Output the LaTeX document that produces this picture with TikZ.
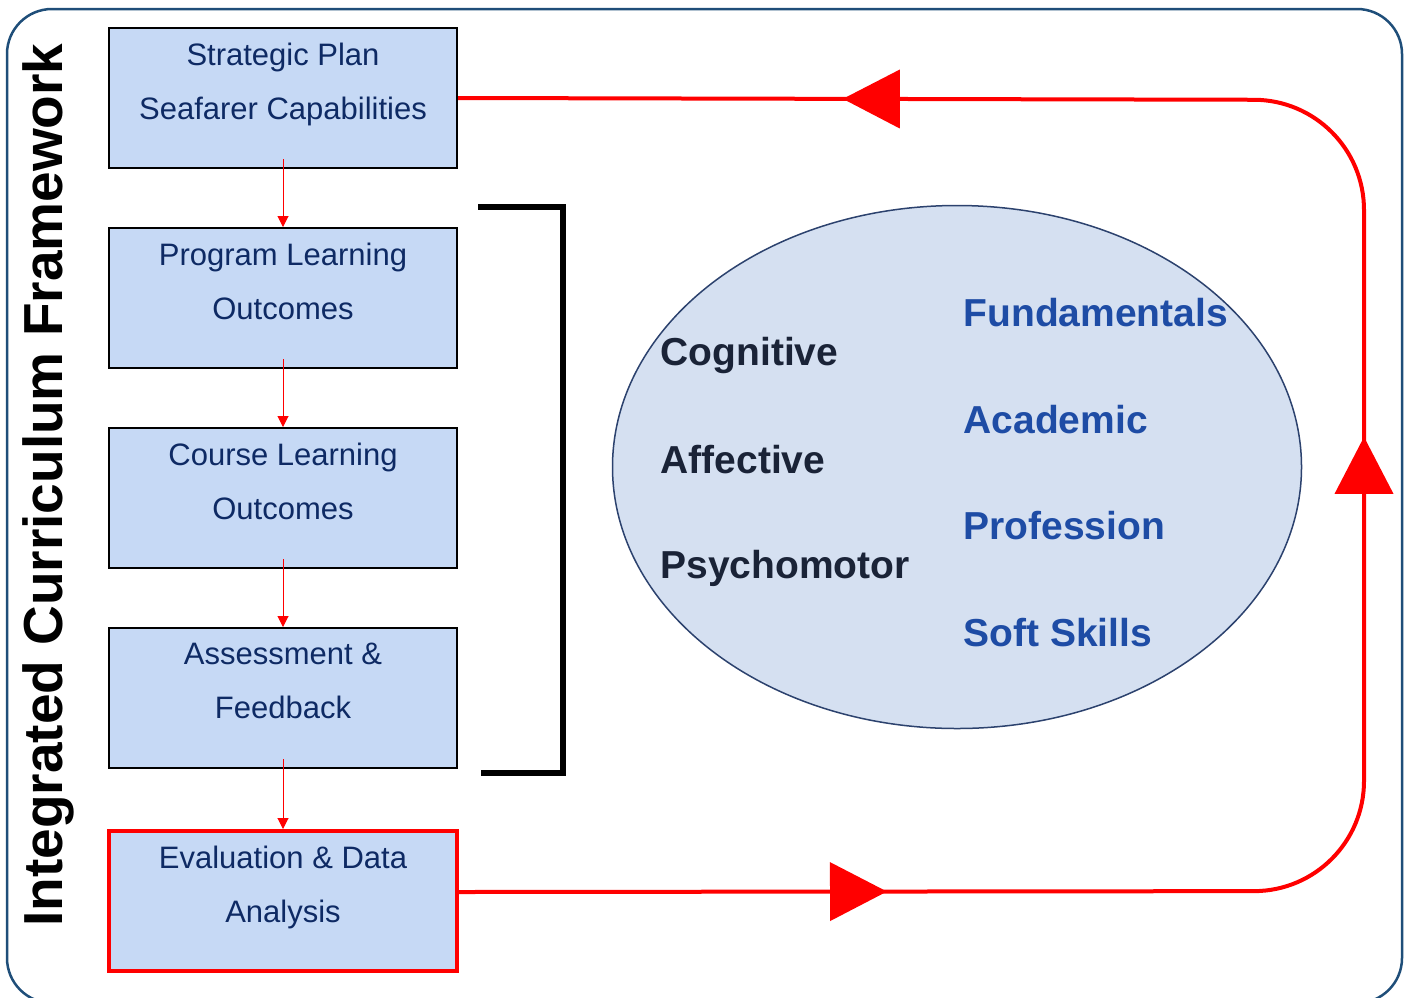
\documentclass[tikz,border=0pt]{standalone}
\usepackage{fontspec}
\setmainfont{Liberation Sans}
\usetikzlibrary{shapes.geometric, positioning, arrows.meta, decorations.markings}

\definecolor{boxfill}{RGB}{198,217,245}
\definecolor{boxink}{RGB}{14,42,100}
\definecolor{ellfill}{RGB}{213,224,241}
\definecolor{ellline}{RGB}{44,66,110}
\definecolor{leftink}{RGB}{26,35,55}
\definecolor{rightink}{RGB}{30,76,165}
\definecolor{framecol}{RGB}{31,78,121}

\begin{document}
\begin{tikzpicture}[x=1pt, y=-1pt,
  box/.style={draw, line width=2pt, fill=boxfill, minimum width=348pt, minimum height=140pt, inner sep=0pt},
  boxtext/.style={align=center, text=boxink, font=\fontsize{31}{54}\selectfont},
  flow/.style={draw=red, line width=1pt, -{Triangle[length=11pt,width=11pt]}},
  domainlabel/.style={anchor=base west, font=\bfseries\fontsize{39}{40}\selectfont},
  feedback/.style={draw=red, line width=4pt, rounded corners=110pt, postaction={decorate},
    decoration={markings,
      mark=at position 428pt with {\arrow{Triangle[length=57pt,width=58pt]}},
      mark=at position 1312pt with {\arrow{Triangle[length=57pt,width=58pt]}},
      mark=at position 2123pt with {\arrow{Triangle[length=57pt,width=58pt]}}}}]

\useasboundingbox (0,0) rectangle (1410,997);
\draw[draw=framecol, line width=2.5pt, rounded corners=45pt] (7,9) rectangle (1402,1003);

\node[rotate=90, anchor=base, font=\bfseries\fontsize{55}{60}\selectfont] (title) at (62,485) {Integrated Curriculum Framework};

% left column of boxes
\node[box] (plan) at (283,98) {};
\node[box, below=58pt of plan] (plo) {};
\node[box, below=58pt of plo] (clo) {};
\node[box, below=58pt of clo] (assess) {};
\node[box, draw=red, line width=4pt, below=60pt of assess] (eval) {};

\node[boxtext] (plan-t) at ([yshift=14pt]plan.center) {Strategic Plan\\Seafarer Capabilities};
\node[boxtext] (plo-t) at ([yshift=17pt]plo.center) {Program Learning\\Outcomes};
\node[boxtext] (clo-t) at ([yshift=17pt]clo.center) {Course Learning\\Outcomes};
\node[boxtext] (assess-t) at ([yshift=17pt]assess.center) {Assessment \&\\Feedback};
\node[boxtext] (eval-t) at ([yshift=14pt]eval.center) {Evaluation \& Data\\Analysis};

\draw[flow] ([yshift=10pt]plan.south) -- (plo.north);
\draw[flow] ([yshift=10pt]plo.south) -- (clo.north);
\draw[flow] ([yshift=10pt]clo.south) -- (assess.north);
\draw[flow] ([yshift=10pt]assess.south) -- (eval.north);

% bracket
\draw[line width=6pt] (478,207) -- (563,207) -- (563,773) -- (481,773);

% domains
\node[ellipse, draw=ellline, line width=1.5pt, fill=ellfill, minimum width=689pt, minimum height=523pt, inner sep=0pt] (domains) at (957,467) {};

\node[domainlabel, text=leftink] (cog) at (657,365) {Cognitive};
\node[domainlabel, text=leftink] (aff) at (657,473) {Affective};
\node[domainlabel, text=leftink] (psy) at (657,578) {Psychomotor};

\node[domainlabel, text=rightink] (fund) at (960,326) {Fundamentals};
\node[domainlabel, text=rightink] (acad) at (960,433) {Academic};
\node[domainlabel, text=rightink] (prof) at (960,539) {Profession};
\node[domainlabel, text=rightink] (soft) at (960,646) {Soft Skills};

% feedback loop
\draw[feedback] ([yshift=9pt]eval.east) -- (1364,891) -- (1364,100) -- (plan.east);

\end{tikzpicture}
\end{document}
